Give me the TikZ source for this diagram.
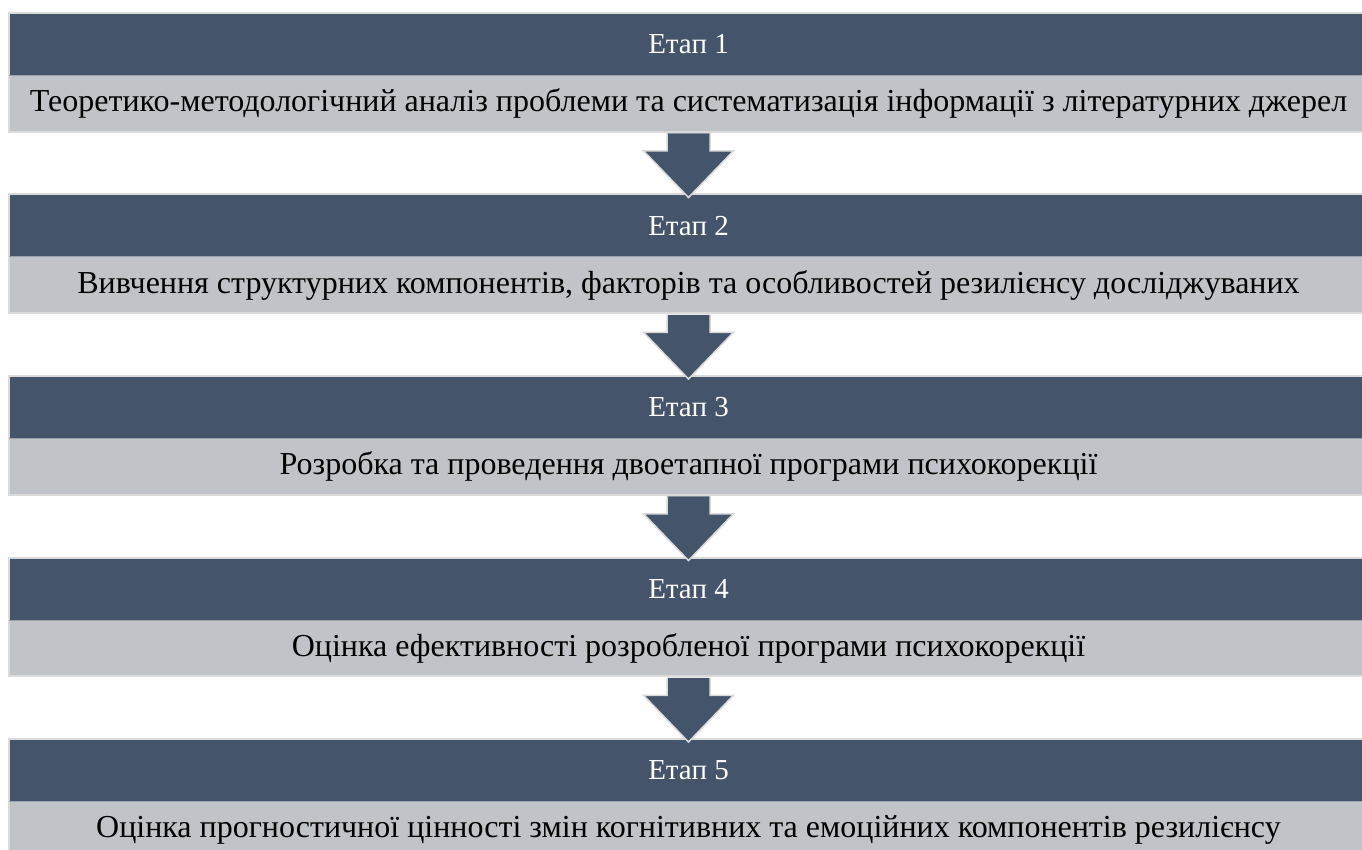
\documentclass[tikz,border=0pt]{standalone}
\usepackage{fontspec}
\setmainfont{Liberation Serif}
\usetikzlibrary{calc}
\definecolor{bandDark}{HTML}{44546A}
\definecolor{bandLight}{HTML}{C0C3C8}
\definecolor{rim}{HTML}{DADADA}
\definecolor{seam}{HTML}{9AA2AD}
\begin{document}
\begin{tikzpicture}[x=1pt,y=-1pt,
  stagehead/.style={fill=bandDark, text=white, minimum width=1359pt,
    minimum height=62pt, inner sep=0pt, anchor=north,
    font=\fontsize{29}{34}\selectfont},
  stagebody/.style={fill=bandLight, text=black, minimum width=1359pt,
    minimum height=56pt, inner sep=0pt, anchor=north,
    font=\fontsize{32}{38}\selectfont},
  stagerim/.style={draw=rim, line width=2pt},
  stageseam/.style={draw=seam, line width=0.8pt},
  blockarrow/.style={fill=bandDark, draw=rim, line width=1.5pt, line join=miter}]
\useasboundingbox (0,0) rectangle (1362,850);
\fill[white] (0,0) rectangle (1362,850);

% stage boxes: dark title band over a light description band
\foreach \i/\txt in {%
  1/{Теоретико-методологічний аналіз проблеми та систематизація інформації з літературних джерел},
  2/{Вивчення структурних компонентів, факторів та особливостей резилієнсу досліджуваних},
  3/{Розробка та проведення двоетапної програми психокорекції},
  4/{Оцінка ефективності розробленої програми психокорекції},
  5/{Оцінка прогностичної цінності змін когнітивних та емоційних компонентів резилієнсу}}{
  \pgfmathsetmacro{\ytop}{13+181.5*(\i-1)}
  \node[stagehead] (h\i) at (688.5,\ytop) {Етап \i};
  \node[stagebody] (b\i) at (h\i.south) {\txt};
  \draw[stagerim] (h\i.north west) rectangle (b\i.south east);
  \draw[stageseam] (h\i.south west) -- (h\i.south east);
}

% block arrows between consecutive stages
\foreach \i [evaluate=\i as \j using int(\i+1)] in {1,2,3,4}{
  \draw[blockarrow]
    ($(b\i.south)+(-21.5,1.5)$) -- ($(b\i.south)+(-21.5,19)$)
    -- ($(b\i.south)+(-45,19)$) -- ($(h\j.north)+(0,3)$)
    -- ($(b\i.south)+(45,19)$) -- ($(b\i.south)+(21.5,19)$)
    -- ($(b\i.south)+(21.5,1.5)$);
}
\end{tikzpicture}
\end{document}
